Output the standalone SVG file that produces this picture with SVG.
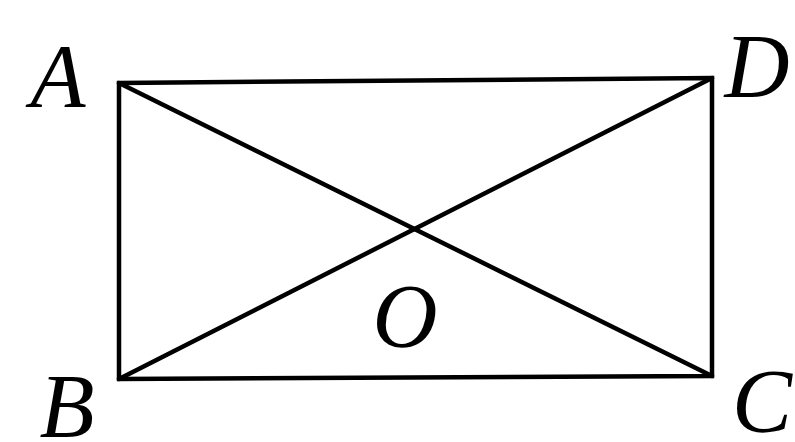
<svg xmlns="http://www.w3.org/2000/svg" width="795" height="442" viewBox="0 0 795 442">
<style>
.e{stroke:#000;stroke-width:4.5;fill:none;stroke-linecap:round;stroke-linejoin:miter}
.l{font-family:"Liberation Serif","DejaVu Serif",serif;font-style:italic;font-size:90px;fill:#000;text-anchor:middle}
</style>
<rect width="795" height="442" fill="#fff"/>
<g id="connectors">
<polygon class="e" points="119,83 712,78 712,376 119,379"/>
<line class="e" x1="119" y1="83" x2="712" y2="376"/>
<line class="e" x1="712" y1="78" x2="119" y2="379"/>
</g>
<g id="A"><text class="l" x="58" y="107">A</text></g>
<g id="D"><text class="l" x="757" y="97">D</text></g>
<g id="B"><text class="l" x="67" y="437">B</text></g>
<g id="C"><text class="l" x="762" y="432">C</text></g>
<g id="O"><text class="l" x="405" y="347">O</text></g>
</svg>
